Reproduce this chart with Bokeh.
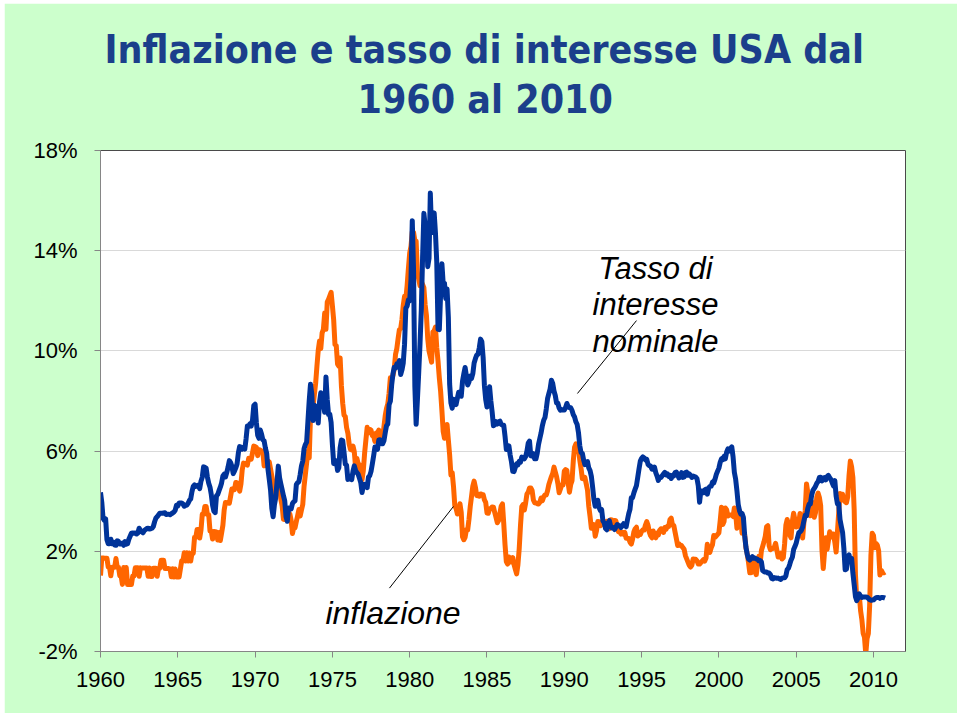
from bokeh.plotting import figure
from bokeh.models import Range1d, FixedTicker, PrintfTickFormatter, Label, Arrow, Title
from bokeh.embed import file_html
from bokeh.resources import INLINE

# ---------------- data (monthly) ----------------
# 3-month T-bill rate, % (blue) - "Tasso di interesse nominale"
tbill_1960s = [
    4.35, 3.96, 3.31, 3.23, 3.29, 2.46, 2.30, 2.30, 2.48, 2.30, 2.37, 2.25,
    2.24, 2.42, 2.39, 2.29, 2.29, 2.33, 2.24, 2.39, 2.28, 2.30, 2.48, 2.60,
    2.72, 2.73, 2.72, 2.73, 2.69, 2.73, 2.92, 2.82, 2.78, 2.74, 2.83, 2.87,
    2.91, 2.92, 2.89, 2.90, 2.92, 2.99, 3.18, 3.32, 3.38, 3.45, 3.52, 3.52,
    3.52, 3.53, 3.54, 3.47, 3.48, 3.48, 3.46, 3.50, 3.53, 3.57, 3.64, 3.84,
    3.81, 3.93, 3.93, 3.93, 3.89, 3.80, 3.84, 3.84, 3.92, 4.03, 4.09, 4.38,
    4.59, 4.65, 4.59, 4.62, 4.64, 4.50, 4.80, 4.96, 5.37, 5.35, 5.32, 4.96,
    4.72, 4.56, 4.26, 3.84, 3.60, 3.54, 4.21, 4.27, 4.42, 4.56, 4.73, 5.01,
    5.08, 4.97, 5.14, 5.36, 5.62, 5.54, 5.38, 5.10, 5.20, 5.33, 5.49, 5.92,
    6.18, 6.16, 6.08, 6.15, 6.08, 6.49, 7.00, 6.98, 7.09, 7.00, 7.24, 7.82,
]
tbill_1970s = [
    7.87, 7.13, 6.63, 6.51, 6.84, 6.68, 6.45, 6.41, 6.12, 5.91, 5.28, 4.87,
    4.44, 3.70, 3.38, 3.86, 4.14, 4.75, 5.40, 4.94, 4.69, 4.46, 4.22, 4.01,
    3.38, 3.20, 3.73, 3.71, 3.69, 3.91, 3.98, 4.02, 4.66, 4.74, 4.78, 5.07,
    5.41, 5.60, 6.09, 6.26, 6.36, 7.19, 8.01, 8.67, 8.29, 7.22, 7.83, 7.45,
    7.77, 7.12, 7.96, 8.33, 8.23, 7.90, 7.55, 8.96, 8.06, 7.46, 7.47, 7.15,
    6.26, 5.50, 5.49, 5.61, 5.23, 5.34, 6.13, 6.44, 6.42, 5.96, 5.48, 5.44,
    4.87, 4.88, 5.00, 4.86, 5.20, 5.41, 5.23, 5.14, 5.08, 4.92, 4.75, 4.35,
    4.62, 4.67, 4.60, 4.54, 4.96, 5.02, 5.19, 5.49, 5.81, 6.16, 6.10, 6.07,
    6.44, 6.45, 6.29, 6.29, 6.41, 6.73, 7.01, 7.08, 7.85, 7.99, 8.64, 9.08,
    9.35, 9.32, 9.48, 9.46, 9.61, 9.06, 9.24, 9.52, 10.26, 11.70, 11.79, 12.04,
]
tbill_1980s = [
    12.00, 12.86, 15.20, 13.20, 8.58, 7.07, 8.06, 9.13, 10.27, 11.62, 13.73, 15.49,
    15.02, 14.79, 13.36, 13.69, 16.30, 14.73, 14.95, 15.51, 14.70, 13.54, 10.86, 10.85,
    12.28, 13.48, 12.68, 12.70, 12.09, 12.47, 11.35, 8.68, 7.92, 7.71, 8.07, 7.94,
    7.86, 8.11, 8.35, 8.21, 8.19, 8.79, 9.08, 9.34, 9.00, 8.64, 8.76, 9.00,
    8.90, 9.09, 9.52, 9.69, 9.83, 9.87, 10.12, 10.47, 10.37, 9.74, 8.61, 8.06,
    7.76, 8.22, 8.57, 8.00, 7.56, 7.01, 7.05, 7.18, 7.08, 7.17, 7.20, 7.07,
    7.04, 7.03, 6.59, 6.06, 6.12, 6.21, 5.84, 5.57, 5.19, 5.18, 5.35, 5.49,
    5.45, 5.59, 5.56, 5.76, 5.75, 5.69, 5.78, 6.00, 6.32, 6.40, 5.81, 5.80,
    5.90, 5.69, 5.69, 5.92, 6.27, 6.50, 6.73, 7.02, 7.23, 7.34, 7.68, 8.09,
    8.29, 8.48, 8.83, 8.70, 8.40, 8.22, 7.92, 7.91, 7.72, 7.63, 7.65, 7.64,
]
tbill_1990s = [
    7.64, 7.74, 7.90, 7.77, 7.74, 7.73, 7.62, 7.45, 7.36, 7.17, 7.06, 6.74,
    6.22, 5.94, 5.91, 5.65, 5.46, 5.57, 5.58, 5.33, 5.22, 4.99, 4.56, 4.07,
    3.80, 3.84, 4.04, 3.75, 3.63, 3.66, 3.21, 3.13, 2.91, 2.86, 3.13, 3.22,
    3.00, 2.93, 2.95, 2.87, 2.96, 3.07, 3.04, 3.02, 2.95, 3.02, 3.10, 3.06,
    2.98, 3.25, 3.50, 3.68, 4.14, 4.14, 4.33, 4.48, 4.62, 4.95, 5.29, 5.60,
    5.71, 5.77, 5.73, 5.65, 5.67, 5.47, 5.42, 5.40, 5.28, 5.28, 5.36, 5.14,
    5.00, 4.83, 4.96, 4.95, 5.02, 5.09, 5.15, 5.05, 5.09, 4.99, 5.03, 4.91,
    5.03, 5.01, 5.14, 5.16, 5.05, 4.93, 5.05, 5.14, 4.95, 4.97, 5.14, 5.16,
    5.04, 5.09, 5.03, 4.95, 5.00, 4.98, 4.96, 4.90, 4.61, 3.96, 4.41, 4.39,
    4.34, 4.45, 4.48, 4.28, 4.51, 4.59, 4.60, 4.76, 4.73, 4.88, 5.07, 5.20,
]
tbill_2000s = [
    5.32, 5.55, 5.69, 5.66, 5.79, 5.69, 5.96, 6.09, 6.00, 6.11, 6.17, 5.77,
    5.15, 4.88, 4.42, 3.87, 3.62, 3.49, 3.51, 3.36, 2.64, 2.16, 1.87, 1.69,
    1.65, 1.73, 1.79, 1.72, 1.73, 1.70, 1.68, 1.62, 1.63, 1.58, 1.23, 1.19,
    1.17, 1.17, 1.13, 1.13, 1.07, 0.92, 0.90, 0.95, 0.94, 0.92, 0.93, 0.90,
    0.88, 0.93, 0.94, 0.94, 1.02, 1.27, 1.33, 1.48, 1.65, 1.76, 2.07, 2.19,
    2.33, 2.54, 2.74, 2.78, 2.84, 2.97, 3.22, 3.44, 3.42, 3.71, 3.88, 3.89,
    4.24, 4.43, 4.51, 4.60, 4.72, 4.79, 4.95, 4.96, 4.81, 4.92, 4.94, 4.85,
    4.98, 5.03, 4.94, 4.87, 4.73, 4.61, 4.82, 4.20, 3.89, 3.90, 3.27, 3.00,
    2.75, 2.12, 1.26, 1.29, 1.73, 1.86, 1.63, 1.72, 1.13, 0.67, 0.19, 0.03,
    0.13, 0.30, 0.21, 0.16, 0.18, 0.18, 0.18, 0.17, 0.12, 0.07, 0.05, 0.05,
]
tbill_2010 = [0.06, 0.11, 0.15, 0.16, 0.16, 0.12, 0.16, 0.16, 0.15, 0.13]

# CPI inflation, year over year % (orange) - "inflazione"
cpi_1960s = [
    1.03, 1.73, 1.73, 1.72, 1.72, 1.72, 1.37, 1.37, 1.02, 1.36, 1.36, 1.36,
    1.71, 1.36, 1.36, 1.02, 1.02, 0.68, 1.35, 1.01, 1.35, 0.67, 0.67, 0.67,
    0.67, 1.01, 1.01, 1.34, 1.34, 1.34, 1.00, 1.34, 1.33, 1.33, 1.33, 1.33,
    1.33, 1.00, 1.33, 0.99, 0.99, 1.32, 1.32, 1.32, 1.00, 1.32, 1.32, 1.64,
    1.64, 1.64, 1.31, 1.31, 1.31, 1.31, 1.30, 0.98, 1.30, 0.97, 1.29, 0.97,
    0.97, 0.97, 1.29, 1.62, 1.62, 1.94, 1.61, 1.94, 1.61, 1.93, 1.61, 1.92,
    1.92, 2.56, 2.56, 2.87, 2.87, 2.53, 2.85, 3.48, 3.48, 3.79, 3.79, 3.46,
    3.46, 2.81, 2.80, 2.49, 2.79, 2.78, 2.77, 2.45, 2.75, 2.43, 2.73, 3.04,
    3.65, 3.95, 3.94, 3.93, 3.92, 4.20, 4.49, 4.48, 4.46, 4.75, 4.73, 4.72,
    4.40, 4.68, 5.25, 5.52, 5.51, 5.48, 5.44, 5.71, 5.70, 5.68, 5.93, 6.20,
]
cpi_1970s = [
    6.18, 6.15, 5.82, 6.06, 6.04, 6.01, 5.98, 5.41, 5.66, 5.63, 5.60, 5.57,
    5.29, 5.00, 4.71, 4.16, 4.40, 4.64, 4.36, 4.62, 4.08, 3.81, 3.28, 3.27,
    3.27, 3.51, 3.50, 3.49, 3.23, 2.71, 2.95, 2.94, 3.19, 3.42, 3.67, 3.41,
    3.65, 3.87, 4.59, 5.06, 5.53, 5.99, 5.73, 7.38, 7.36, 7.80, 8.25, 8.71,
    9.39, 10.02, 10.39, 10.09, 10.71, 10.86, 11.51, 10.86, 11.95, 12.06, 12.20, 12.34,
    11.80, 11.23, 10.25, 10.21, 9.47, 9.39, 9.72, 8.60, 7.91, 7.44, 7.38, 6.94,
    6.72, 6.29, 6.07, 6.05, 6.20, 5.97, 5.35, 5.71, 5.49, 5.46, 4.88, 4.86,
    5.22, 5.91, 6.44, 6.95, 6.73, 6.87, 6.83, 6.62, 6.60, 6.39, 6.72, 6.70,
    6.84, 6.43, 6.55, 6.50, 6.97, 7.41, 7.70, 7.88, 8.31, 8.93, 8.89, 9.02,
    9.28, 9.86, 10.09, 10.49, 10.85, 10.89, 11.26, 11.82, 12.18, 12.07, 12.61, 13.29,
]
cpi_1980s = [
    13.91, 14.18, 14.76, 14.73, 14.41, 14.38, 13.13, 12.87, 12.60, 12.77, 12.65, 12.52,
    11.83, 11.41, 10.49, 10.00, 9.78, 9.55, 10.76, 10.80, 10.95, 10.14, 9.59, 8.92,
    8.39, 7.62, 6.78, 6.51, 6.68, 7.06, 6.44, 5.85, 5.04, 5.14, 4.59, 3.83,
    3.71, 3.49, 3.60, 3.90, 3.55, 2.58, 2.46, 2.56, 2.86, 2.85, 3.27, 3.79,
    4.19, 4.60, 4.80, 4.56, 4.23, 4.22, 4.20, 4.29, 4.27, 4.26, 4.05, 3.95,
    3.53, 3.52, 3.70, 3.69, 3.77, 3.76, 3.55, 3.35, 3.14, 3.23, 3.51, 3.80,
    3.89, 3.11, 2.26, 1.59, 1.49, 1.77, 1.58, 1.57, 1.75, 1.47, 1.28, 1.10,
    1.46, 2.10, 3.03, 3.78, 3.86, 3.65, 3.93, 4.28, 4.36, 4.53, 4.53, 4.43,
    4.05, 3.94, 3.93, 3.90, 3.89, 3.96, 4.13, 4.02, 4.17, 4.25, 4.25, 4.42,
    4.67, 4.83, 4.98, 5.11, 5.36, 5.17, 4.98, 4.71, 4.34, 4.49, 4.66, 4.65,
]
cpi_1990s = [
    5.20, 5.26, 5.23, 4.71, 4.36, 4.67, 4.82, 5.62, 6.16, 6.29, 6.27, 6.11,
    5.65, 5.31, 4.90, 4.89, 4.95, 4.70, 4.45, 3.80, 3.39, 2.92, 2.99, 3.06,
    2.60, 2.82, 3.19, 3.18, 3.02, 3.09, 3.16, 3.15, 2.99, 3.20, 3.05, 2.90,
    3.26, 3.25, 3.09, 3.23, 3.22, 3.00, 2.78, 2.77, 2.69, 2.75, 2.68, 2.75,
    2.52, 2.52, 2.51, 2.36, 2.29, 2.49, 2.77, 2.90, 2.96, 2.61, 2.67, 2.67,
    2.80, 2.86, 2.85, 3.05, 3.19, 3.04, 2.76, 2.62, 2.54, 2.81, 2.61, 2.54,
    2.73, 2.65, 2.84, 2.90, 2.89, 2.75, 2.95, 2.88, 3.00, 2.99, 3.26, 3.32,
    3.04, 3.03, 2.76, 2.50, 2.23, 2.30, 2.23, 2.23, 2.15, 2.08, 1.83, 1.70,
    1.57, 1.44, 1.37, 1.44, 1.69, 1.68, 1.68, 1.62, 1.49, 1.49, 1.55, 1.61,
    1.67, 1.61, 1.73, 2.28, 2.09, 1.96, 2.14, 2.26, 2.63, 2.56, 2.62, 2.68,
]
cpi_2000s = [
    2.74, 3.22, 3.76, 3.07, 3.19, 3.73, 3.66, 3.41, 3.45, 3.45, 3.45, 3.39,
    3.73, 3.53, 2.92, 3.27, 3.62, 3.25, 2.72, 2.72, 2.65, 2.13, 1.90, 1.55,
    1.14, 1.14, 1.48, 1.64, 1.18, 1.07, 1.46, 1.80, 1.51, 2.03, 2.20, 2.38,
    2.60, 2.98, 3.02, 2.22, 2.06, 2.11, 2.11, 2.16, 2.32, 2.04, 1.77, 1.88,
    1.93, 1.69, 1.74, 2.29, 3.05, 3.27, 2.99, 2.65, 2.54, 3.19, 3.52, 3.26,
    2.97, 3.01, 3.15, 3.51, 2.80, 2.53, 3.17, 3.64, 4.69, 4.35, 3.46, 3.42,
    3.99, 3.60, 3.36, 3.55, 4.17, 4.32, 4.15, 3.82, 2.06, 1.31, 1.97, 2.54,
    2.08, 2.42, 2.78, 2.57, 2.69, 2.69, 2.36, 1.97, 2.76, 3.54, 4.31, 4.08,
    4.28, 4.03, 3.98, 3.94, 4.18, 5.02, 5.60, 5.37, 4.94, 3.66, 1.07, 0.09,
    0.03, 0.24, -0.38, -0.74, -1.28, -1.43, -2.10, -1.48, -1.29, -0.18, 1.84, 2.72,
]
cpi_2010 = [2.63, 2.14, 2.31, 2.24, 2.02, 1.05, 1.24, 1.15, 1.14, 1.17]

start_year = 1960
year_ticks = [1960, 1965, 1970, 1975, 1980, 1985, 1990, 1995, 2000, 2005, 2010]
pct_ticks = [-2, 2, 6, 10, 14, 18]

title_line1 = "Inflazione e tasso di interesse USA dal"
title_line2 = "1960 al 2010"
label_rate = ["Tasso di", "interesse", "nominale"]
label_infl = "inflazione"

tbill = tbill_1960s + tbill_1970s + tbill_1980s + tbill_1990s + tbill_2000s + tbill_2010
cpi = cpi_1960s + cpi_1970s + cpi_1980s + cpi_1990s + cpi_2000s + cpi_2010
dates_t = [start_year + i / 12 for i in range(len(tbill))]
dates_c = [start_year + i / 12 for i in range(len(cpi))]

# ---------------- figure ----------------
BG = "#CCFFCC"
p = figure(width=953, height=710, output_backend="svg", toolbar_location=None,
           title=None,
           x_range=Range1d(1960, 2012.07), y_range=Range1d(-2, 18),
           background_fill_color="white", border_fill_color=BG,
           outline_line_color="#4a4a4a", outline_line_width=1,
           min_border_left=96, min_border_right=52, min_border_bottom=62, min_border_top=147)
p.margin = (3, 3, 3, 4)

# title: two lines above the frame (a blank spacer panel sits next to the frame)
TITLE_FONT = "'Liberation Sans Narrow', 'DejaVu Sans Condensed', sans-serif"
TITLE_COLOR = "#1B3F8B"
spacer = Title(text=" ", text_font_size="1px", standoff=23)
t2 = Title(text=title_line2, align="left", offset=257, standoff=6,
           text_font=TITLE_FONT, text_font_size="39px", text_font_style="bold",
           text_color=TITLE_COLOR, text_line_height=1.0)
t1 = Title(text=title_line1, align="left", offset=4, standoff=0,
           text_font=TITLE_FONT, text_font_size="39px", text_font_style="bold",
           text_color=TITLE_COLOR, text_line_height=1.0)
p.add_layout(spacer, "above")
p.add_layout(t2, "above")
p.add_layout(t1, "above")

# axes
TICK_FONT = "Liberation Sans"
p.xaxis.ticker = FixedTicker(ticks=year_ticks)
p.yaxis.ticker = FixedTicker(ticks=pct_ticks)
p.yaxis.formatter = PrintfTickFormatter(format="%d%%")
for ax in (p.xaxis[0], p.yaxis[0]):
    ax.axis_line_color = "#868686"
    ax.major_tick_line_color = "#868686"
    ax.minor_tick_line_color = None
    ax.major_tick_in = 0
    ax.major_tick_out = 6
    ax.major_label_text_font = TICK_FONT
    ax.major_label_text_font_size = "22px"
    ax.major_label_text_color = "black"
p.yaxis.major_label_standoff = 17
p.xaxis.major_label_standoff = 14

p.xgrid.grid_line_color = None
p.ygrid.grid_line_color = "#D9D9D9"
p.ygrid.grid_line_width = 1

# series
p.line(dates_c, cpi, line_color="#FF6600", line_width=5, line_join="round")
p.line(dates_t, tbill, line_color="#003399", line_width=5, line_join="round")

# annotations
ANN_FONT = "Liberation Sans"
for txt, yv in zip(label_rate, [13.28, 11.84, 10.37]):
    p.add_layout(Label(x=1995.9, y=yv, text=txt, text_align="center", text_baseline="alphabetic",
                       text_font=ANN_FONT, text_font_style="italic", text_font_size="31px",
                       text_color="black"))
p.add_layout(Label(x=1974.55, y=-0.47, text=label_infl, text_align="left", text_baseline="alphabetic",
                   text_font=ANN_FONT, text_font_style="italic", text_font_size="32px",
                   text_color="black"))
p.add_layout(Arrow(end=None, x_start=1990.85, y_start=8.30, x_end=1994.67, y_end=11.21,
                   line_color="black", line_width=1))
p.add_layout(Arrow(end=None, x_start=1978.69, y_start=0.53, x_end=1982.83, y_end=3.79,
                   line_color="black", line_width=1))

open("out.html", "w").write(file_html(p, INLINE))
